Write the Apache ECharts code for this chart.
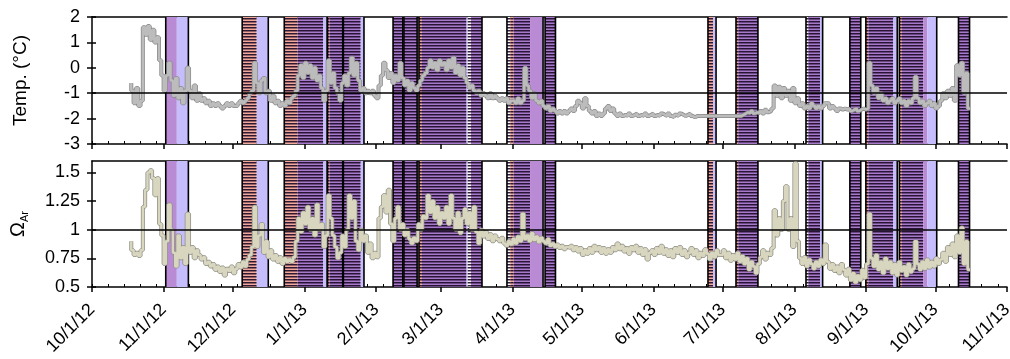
<!DOCTYPE html>
<html>
<head>
<meta charset="utf-8">
<title>Temp / Omega Ar</title>
<script src="https://cdn.jsdelivr.net/npm/echarts@6/dist/echarts.min.js"></script>
<style>
  html, body { margin: 0; padding: 0; background: #fff; }
  #chart { width: 1010px; height: 359px; }
</style>
</head>
<body>
<div id="chart"></div>
<script>
// one value per day, first day 10/18/12
const seriesStart = '2012-10-18';
const tempVals = [
  -0.6, -0.9, -1.4, -0.8, -1.5, -1.3, 1.6, 1.3, 1.65, 1.1,
  1.5, 1.0, 1.2, 0.3, -0.3, -0.9, -0.3, 0.2, -0.5, -1.1,
  -0.4, -1.2, -0.8, -1.4, -0.9, 0.0, -0.9, -1.2, -0.7, -1.3,
  -1.0, -1.3, -1.2, -1.4, -1.3, -1.5, -1.4, -1.5, -1.4, -1.5,
  -1.6, -1.5, -1.4, -1.5, -1.4, -1.5, -1.5, -1.4, -1.3, -1.4,
  -1.3, -1.2, -1.0, -0.9, 0.2, -0.6, -1.0, -0.5, -0.4, -1.0,
  -0.9, -1.3, -1.1, -1.4, -1.3, -1.5, -1.4, -1.5, -1.3, -1.4,
  -1.2, -1.1, -0.9, -0.3, 0.1, -0.4, 0.2, -0.2, 0.1, -0.4,
  0.0, -0.5, -0.3, -0.8, -1.3, -0.9, 0.3, -0.6, -0.2, -0.8,
  -1.0, -1.3, -0.6, -0.3, -0.7, -0.2, 0.4, -0.3, 0.2, -0.5,
  -0.9, -0.8, -1.0, -0.9, -1.0, -0.9, -1.1, -1.2, -0.7, -0.3,
  0.2, -0.1, -0.4, -0.2, -0.6, -0.3, -0.5, 0.2, -0.4, -0.7,
  -0.5, -0.9, -0.6, -0.8, -0.9, -0.7, -0.5, -0.3, -0.2, 0.0,
  0.3, 0.0, 0.2, -0.1, 0.3, 0.1, 0.2, -0.1, 0.3, 0.0,
  0.4, -0.2, 0.1, -0.3, 0.0, -0.4, -0.6, -0.8, -0.7, -0.9,
  -1.0, -0.9, -1.1, -1.0, -1.1, -1.2, -1.0, -1.2, -1.1, -1.2,
  -1.3, -1.2, -1.3, -1.2, -1.4, -1.3, -1.3, -1.4, -1.2, -1.4,
  -1.3, 0.0, -0.7, -0.9, -1.2, -1.0, -1.3, -1.4, -1.3, -1.5,
  -1.6, -1.5, -1.7, -1.6, -1.7, -1.8, -1.7, -1.8, -1.7, -1.8,
  -1.7, -1.6, -1.7, -1.5, -1.3, -1.4, -1.6, -1.2, -1.5, -1.7,
  -1.8, -1.7, -1.9, -1.8, -1.9, -1.8, -1.6, -1.5, -1.7, -1.6,
  -1.8, -1.9, -1.8, -1.9, -1.85, -1.9, -1.8, -1.9, -1.85, -1.8,
  -1.9, -1.85, -1.9, -1.8, -1.9, -1.85, -1.8, -1.9, -1.85, -1.9,
  -1.8, -1.85, -1.9, -1.8, -1.9, -1.95, -1.85, -1.9, -1.8, -1.85,
  -1.9, -1.85, -1.8, -1.9, -1.95, -1.9, -1.9, -1.9, -1.9, -1.9,
  -1.9, -1.9, -1.9, -1.9, -1.9, -1.9, -1.9, -1.9, -1.9, -1.9,
  -1.9, -1.9, -1.9, -1.9, -1.9, -1.85, -1.8, -1.75, -1.8, -1.7,
  -1.8, -1.75, -1.8, -1.7, -1.8, -1.65, -1.75, -1.7, -1.6, -0.7,
  -1.1, -0.75, -1.2, -0.8, -1.1, -0.9, -1.3, -0.8, -1.4, -1.2,
  -1.5, -1.4, -1.6, -1.5, -1.6, -1.4, -1.5, -1.6, -1.5, -1.6,
  -1.5, -1.4, -1.4, -1.6, -1.5, -1.6, -1.7, -1.6, -1.65, -1.6,
  -1.65, -1.6, -1.7, -1.65, -1.6, -1.7, -1.65, -1.6, -1.65, -1.6,
  0.2, -0.7, -1.0, -0.8, -1.2, -1.0, -1.3, -1.2, -1.4, -1.3,
  -1.2, -1.4, -1.3, -1.2, -1.4, -1.3, -1.5, -1.3, -1.4, -1.2,
  -0.35, -1.2, -1.4, -1.3, -1.5, -1.4, -1.3, -1.5, -1.4, -1.6,
  -1.5, -1.3, -1.0, -1.2, -0.9, -1.1, -0.8, -1.3, 0.1, -0.3,
  0.2, -1.0, -0.2, -1.6
];
const omegaVals = [
  0.9, 0.82, 0.78, 0.8, 0.77, 0.82, 1.2, 1.35, 1.5, 1.52,
  1.45, 1.3, 1.45, 1.05, 0.95, 0.7, 0.9, 1.22, 1.0, 0.8,
  0.68, 0.95, 0.75, 0.85, 0.7, 1.14, 0.8, 0.85, 0.75, 0.82,
  0.78, 0.74, 0.76, 0.7, 0.72, 0.68, 0.7, 0.65, 0.68, 0.63,
  0.67, 0.6, 0.66, 0.64, 0.68, 0.62, 0.66, 0.7, 0.67, 0.72,
  0.68, 0.74, 0.78, 0.85, 1.2, 0.85, 0.95, 1.05, 0.8, 0.9,
  0.76, 0.82, 0.74, 0.78, 0.72, 0.76, 0.7, 0.75, 0.72, 0.74,
  0.72, 0.76, 0.9, 1.1, 0.98, 1.15, 1.05, 1.2, 1.0, 1.1,
  0.95, 1.22, 1.0, 1.05, 0.85, 0.95, 1.3, 1.1, 0.95, 0.85,
  0.75, 0.8, 0.95, 0.85, 1.0, 1.3, 1.1, 1.25, 0.9, 0.82,
  1.0, 0.9, 0.95, 0.8, 0.88, 0.75, 0.8, 0.76, 1.1, 1.2,
  1.3, 1.15, 1.35, 1.05, 0.9, 1.1, 1.2, 1.0, 1.05, 0.95,
  1.0, 0.92, 0.88, 0.93, 0.9, 1.05, 1.0, 1.12, 1.1, 1.3,
  1.15, 1.25, 1.1, 1.2, 1.05, 1.15, 1.1, 1.2, 1.05, 1.3,
  1.1, 1.0, 1.15, 0.97, 1.1, 1.18, 1.05, 1.15, 1.0, 1.2,
  0.98, 0.88, 1.0, 0.94, 0.98, 0.92, 0.96, 0.9, 0.95, 0.92,
  0.9, 0.93, 0.88, 0.86, 0.9, 0.87, 0.92, 0.88, 0.94, 0.9,
  1.14, 0.92, 0.95, 0.9, 0.97, 0.91, 0.94, 0.89, 0.93, 0.9,
  0.88, 0.92, 0.86, 0.88, 0.85, 0.87, 0.84, 0.86, 0.83, 0.85,
  0.84, 0.86, 0.82, 0.85, 0.81, 0.84, 0.78, 0.82, 0.79, 0.84,
  0.8, 0.86, 0.82, 0.85, 0.8, 0.84, 0.79, 0.83, 0.8, 0.85,
  0.82, 0.88, 0.83, 0.86, 0.81, 0.84, 0.79, 0.85, 0.82, 0.86,
  0.8, 0.84, 0.78, 0.83, 0.74, 0.8, 0.82, 0.78, 0.84, 0.8,
  0.86, 0.79, 0.83, 0.77, 0.82, 0.76, 0.84, 0.8, 0.85, 0.78,
  0.82, 0.76, 0.8, 0.84, 0.78, 0.82, 0.75, 0.8, 0.77, 0.83,
  0.79, 0.74, 0.8, 0.76, 0.82, 0.78, 0.78, 0.82, 0.75, 0.8,
  0.73, 0.78, 0.74, 0.8, 0.72, 0.77, 0.7, 0.75, 0.65, 0.72,
  0.68, 0.62, 0.7, 0.76, 0.82, 0.74, 0.8, 0.78, 0.84, 1.17,
  0.95, 1.1, 1.0, 1.25, 1.38, 1.0, 1.1, 0.85, 1.58, 0.9,
  0.75, 0.7, 0.76, 0.68, 0.74, 0.7, 0.66, 0.72, 0.68, 0.74,
  0.7, 0.87, 0.72, 0.66, 0.7, 0.64, 0.68, 0.62, 0.7, 0.65,
  0.6, 0.66, 0.56, 0.62, 0.54, 0.6, 0.56, 0.65, 0.58, 0.7,
  1.14, 0.75, 0.68, 0.78, 0.65, 0.72, 0.62, 0.75, 0.66, 0.72,
  0.62, 0.7, 0.6, 0.72, 0.64, 0.68, 0.6, 0.7, 0.63, 0.66,
  0.9, 0.7, 0.65, 0.72, 0.66, 0.74, 0.67, 0.72, 0.68, 0.75,
  0.7, 0.74, 0.8, 0.72, 0.85, 0.78, 0.88, 0.76, 0.95, 0.8,
  1.02, 0.7, 0.9, 0.65
];

// shaded periods: [from, to, kind]
const bandSegs = [
  ['2012-11-01 22', '2012-11-06 17', 'P'],
  ['2012-11-06 17', '2012-11-11 17', 'L'],
  ['2012-12-05 00', '2012-12-11 07', 'SH'],
  ['2012-12-11 07', '2012-12-16 07', 'L'],
  ['2012-12-23 05', '2012-12-29 00', 'SH'],
  ['2012-12-29 00', '2013-01-09 02', 'PH'],
  ['2013-01-09 02', '2013-01-10 19', 'L'],
  ['2013-01-10 22', '2013-01-11 19', 'SH'],
  ['2013-01-11 19', '2013-01-17 12', 'PH'],
  ['2013-01-17 19', '2013-01-25 07', 'PH'],
  ['2013-01-25 07', '2013-01-26 17', 'L'],
  ['2013-02-08 07', '2013-02-12 12', 'PH'],
  ['2013-02-13 00', '2013-02-18 17', 'PH'],
  ['2013-02-19 12', '2013-02-20 19', 'SH'],
  ['2013-02-20 19', '2013-03-12 02', 'PH'],
  ['2013-03-12 02', '2013-03-12 14', 'L'],
  ['2013-03-12 14', '2013-03-14 00', 'WH'],
  ['2013-03-14 00', '2013-03-18 19', 'PH'],
  ['2013-03-29 14', '2013-03-31 00', 'WH'],
  ['2013-03-31 00', '2013-04-01 12', 'SH'],
  ['2013-04-01 12', '2013-04-08 14', 'PH'],
  ['2013-04-08 14', '2013-04-14 05', 'P'],
  ['2013-04-15 02', '2013-04-19 14', 'PH'],
  ['2013-06-24 14', '2013-06-26 19', 'SH'],
  ['2013-06-26 19', '2013-06-28 02', 'L'],
  ['2013-07-06 17', '2013-07-07 17', 'SH'],
  ['2013-07-07 17', '2013-07-16 05', 'PH'],
  ['2013-08-06 00', '2013-08-07 00', 'WH'],
  ['2013-08-07 00', '2013-08-12 02', 'PH'],
  ['2013-08-12 02', '2013-08-13 05', 'L'],
  ['2013-08-25 00', '2013-08-29 17', 'PH'],
  ['2013-08-31 22', '2013-09-02 00', 'SH'],
  ['2013-09-02 00', '2013-09-12 19', 'PH'],
  ['2013-09-12 19', '2013-09-14 12', 'L'],
  ['2013-09-15 10', '2013-09-16 12', 'SH'],
  ['2013-09-16 12', '2013-09-25 19', 'PH'],
  ['2013-09-25 19', '2013-09-27 12', 'P'],
  ['2013-09-27 12', '2013-10-01 14', 'L'],
  ['2013-10-11 00', '2013-10-15 19', 'PH']
];
// black boundary lines of the periods
const bandEdges = [
  '2012-11-01 22', '2012-11-11 17', '2012-12-05 00', '2012-12-16 07',
  '2012-12-23 05', '2013-01-10 19', '2013-01-10 22', '2013-01-17 12',
  '2013-01-17 19', '2013-01-26 17', '2013-02-08 07', '2013-02-12 12',
  '2013-02-13 00', '2013-02-18 17', '2013-02-19 12', '2013-03-18 19',
  '2013-03-29 14', '2013-04-14 05', '2013-04-15 02', '2013-04-19 14',
  '2013-06-24 14', '2013-06-28 02', '2013-07-06 17', '2013-07-16 05',
  '2013-08-06 00', '2013-08-13 05', '2013-08-25 00', '2013-08-29 17',
  '2013-08-31 22', '2013-09-14 12', '2013-09-15 10', '2013-10-01 14',
  '2013-10-11 00', '2013-10-15 19'
];

const tempTicks = [-3, -2, -1, 0, 1, 2];
const omegaTicks = [0.5, 0.75, 1, 1.25, 1.5];

const kinds = {
  P:  { fill: '#b98bd5', hatch: false },
  L:  { fill: '#c5bdfc', hatch: false },
  PH: { fill: '#a679cb', hatch: true },
  SH: { fill: '#f2a99b', hatch: true },
  WH: { fill: '#ffffff', hatch: true }
};

function ts(s) {
  const [d, h] = s.split(' ');
  const p = d.split('-').map(Number);
  return new Date(p[0], p[1] - 1, p[2], h ? +h : 0).getTime();
}

const xMin = ts('2012-10-01');
const xMax = ts('2013-11-01');

// month ticks + weekly (monday) minor ticks
const monthTicks = [];
for (let i = 0; i <= 13; i++) monthTicks.push(new Date(2012, 9 + i, 1).getTime());
const weekTicks = [];
for (let i = 0; ; i += 7) {
  const t = new Date(2012, 9, 1 + i).getTime();
  if (t > xMax) break;
  weekTicks.push(t);
}

const s0 = seriesStart.split('-').map(Number);
const tempData = tempVals.map((v, i) => [new Date(s0[0], s0[1] - 1, s0[2] + i).getTime(), v]);
const omegaData = omegaVals.map((v, i) => [new Date(s0[0], s0[1] - 1, s0[2] + i).getTime(), v]);

const bandData = bandSegs.map(b => [ts(b[0]), ts(b[1])]);
const edgeData = bandEdges.map(e => [ts(e)]);

const hatch = (function () {
  const c = document.createElement('canvas');
  c.width = 4; c.height = 3;
  const g = c.getContext('2d');
  g.fillStyle = 'rgba(30,12,40,0.92)';
  g.fillRect(0, 0, 4, 1);
  g.fillStyle = 'rgba(30,12,40,0.45)';
  g.fillRect(0, 1, 4, 1);
  return c;
})();

function renderBand(params, api) {
  const cs = params.coordSys;
  const x0 = api.coord([api.value(0), 0])[0];
  const x1 = api.coord([api.value(1), 0])[0];
  const k = kinds[bandSegs[params.dataIndex][2]];
  const shape = { x: x0, y: cs.y, width: x1 - x0, height: cs.height };
  const kids = [{ type: 'rect', shape: shape, style: { fill: k.fill } }];
  if (k.hatch) kids.push({ type: 'rect', shape: shape, style: { fill: { image: hatch, repeat: 'repeat' } } });
  return { type: 'group', children: kids };
}

function renderEdge(params, api) {
  const cs = params.coordSys;
  const x = api.coord([api.value(0), 0])[0];
  return {
    type: 'line',
    shape: { x1: x, y1: cs.y, x2: x, y2: cs.y + cs.height },
    style: { stroke: '#000', lineWidth: 1.6 }
  };
}

const FONT = 'Liberation Sans';
const fmtDate = v => {
  const d = new Date(v);
  return (d.getMonth() + 1) + '/' + d.getDate() + '/' + String(d.getFullYear()).slice(2);
};

function xAxes(gi, labels) {
  return [
    {
      type: 'value', gridIndex: gi, min: xMin, max: xMax, position: 'bottom',
      axisLine: { onZero: false, lineStyle: { color: '#000', width: 1.5 } },
      axisTick: { show: true, customValues: monthTicks, length: 5, lineStyle: { color: '#000', width: 1.5 } },
      axisLabel: labels ? {
        show: true, customValues: monthTicks, rotate: 45, margin: 20,
        fontFamily: FONT, fontSize: 18, color: '#000', formatter: fmtDate
      } : { show: false },
      splitLine: { show: false }
    },
    {
      type: 'value', gridIndex: gi, min: xMin, max: xMax, position: 'bottom',
      axisLine: { show: false, onZero: false },
      axisTick: { show: true, inside: true, customValues: weekTicks, length: 3, lineStyle: { color: '#000', width: 1 } },
      axisLabel: { show: false },
      splitLine: { show: false }
    },
    {
      type: 'value', gridIndex: gi, min: xMin, max: xMax, position: 'top',
      axisLine: { onZero: false, lineStyle: { color: '#000', width: 1.5 } },
      axisTick: { show: false }, axisLabel: { show: false }, splitLine: { show: false }
    }
  ];
}

function yAxes(gi, min, max, ticks, name) {
  return [
    {
      type: 'value', gridIndex: gi, min: min, max: max, position: 'left',
      name: name, nameLocation: 'middle', nameGap: 62, nameRotate: 90,
      nameTextStyle: {
        fontFamily: FONT, fontSize: 19, color: '#000',
        rich: {
          o: { fontFamily: FONT, fontSize: 20, color: '#000', lineHeight: 24 },
          s: { fontFamily: FONT, fontSize: 11, color: '#000', lineHeight: 14, verticalAlign: 'bottom' }
        }
      },
      axisLine: { show: true, onZero: false, lineStyle: { color: '#000', width: 1.5 } },
      axisTick: { show: true, customValues: ticks, length: 5, lineStyle: { color: '#000', width: 1.5 } },
      axisLabel: { customValues: ticks, margin: 12, fontFamily: FONT, fontSize: 18, color: '#000', formatter: v => String(v) },
      splitLine: { show: false }
    },
    {
      type: 'value', gridIndex: gi, min: min, max: max, position: 'left',
      axisLine: { show: false, onZero: false },
      axisTick: { show: true, inside: true, customValues: ticks, length: 4, lineStyle: { color: '#000', width: 1.5 } },
      axisLabel: { show: false },
      splitLine: { show: false }
    }
  ];
}

const refLine = v => ({
  silent: true, symbol: 'none', label: { show: false },
  lineStyle: { color: '#000', width: 1.5, type: 'solid' },
  data: [{ yAxis: v }]
});

const chart = echarts.init(document.getElementById('chart'));
chart.setOption({
  animation: false,
  backgroundColor: '#fff',
  grid: [
    { left: 92, top: 17, width: 915, height: 127, outerBoundsMode: 'none' },
    { left: 92, top: 161, width: 915, height: 126, outerBoundsMode: 'none' }
  ],
  xAxis: xAxes(0, false).concat(xAxes(1, true)),
  yAxis: yAxes(0, -3, 2, tempTicks, 'Temp. (°C)')
    .concat(yAxes(1, 0.5, 1.6, omegaTicks, '{o|Ω}{s|Ar}')),
  series: [
    { type: 'custom', xAxisIndex: 0, yAxisIndex: 0, data: bandData, renderItem: renderBand, z: 1, silent: true, clip: true },
    { type: 'custom', xAxisIndex: 3, yAxisIndex: 2, data: bandData, renderItem: renderBand, z: 1, silent: true, clip: true },
    { type: 'custom', xAxisIndex: 0, yAxisIndex: 0, data: edgeData, renderItem: renderEdge, z: 2, silent: true },
    { type: 'custom', xAxisIndex: 3, yAxisIndex: 2, data: edgeData, renderItem: renderEdge, z: 2, silent: true },
    {
      type: 'line', xAxisIndex: 0, yAxisIndex: 0, data: tempData, step: 'start',
      symbol: 'none', lineStyle: { color: '#8a8a8a', width: 4 }, z: 3
    },
    {
      type: 'line', xAxisIndex: 0, yAxisIndex: 0, data: tempData, step: 'start',
      symbol: 'none', lineStyle: { color: '#bcbcbc', width: 2.5 }, z: 4, markLine: refLine(-1)
    },
    {
      type: 'line', xAxisIndex: 3, yAxisIndex: 2, data: omegaData, step: 'start',
      symbol: 'none', lineStyle: { color: '#8f8e84', width: 4 }, z: 3
    },
    {
      type: 'line', xAxisIndex: 3, yAxisIndex: 2, data: omegaData, step: 'start',
      symbol: 'none', lineStyle: { color: '#d8d6bf', width: 2.5 }, z: 4, markLine: refLine(1)
    }
  ]
});
</script>
</body>
</html>
